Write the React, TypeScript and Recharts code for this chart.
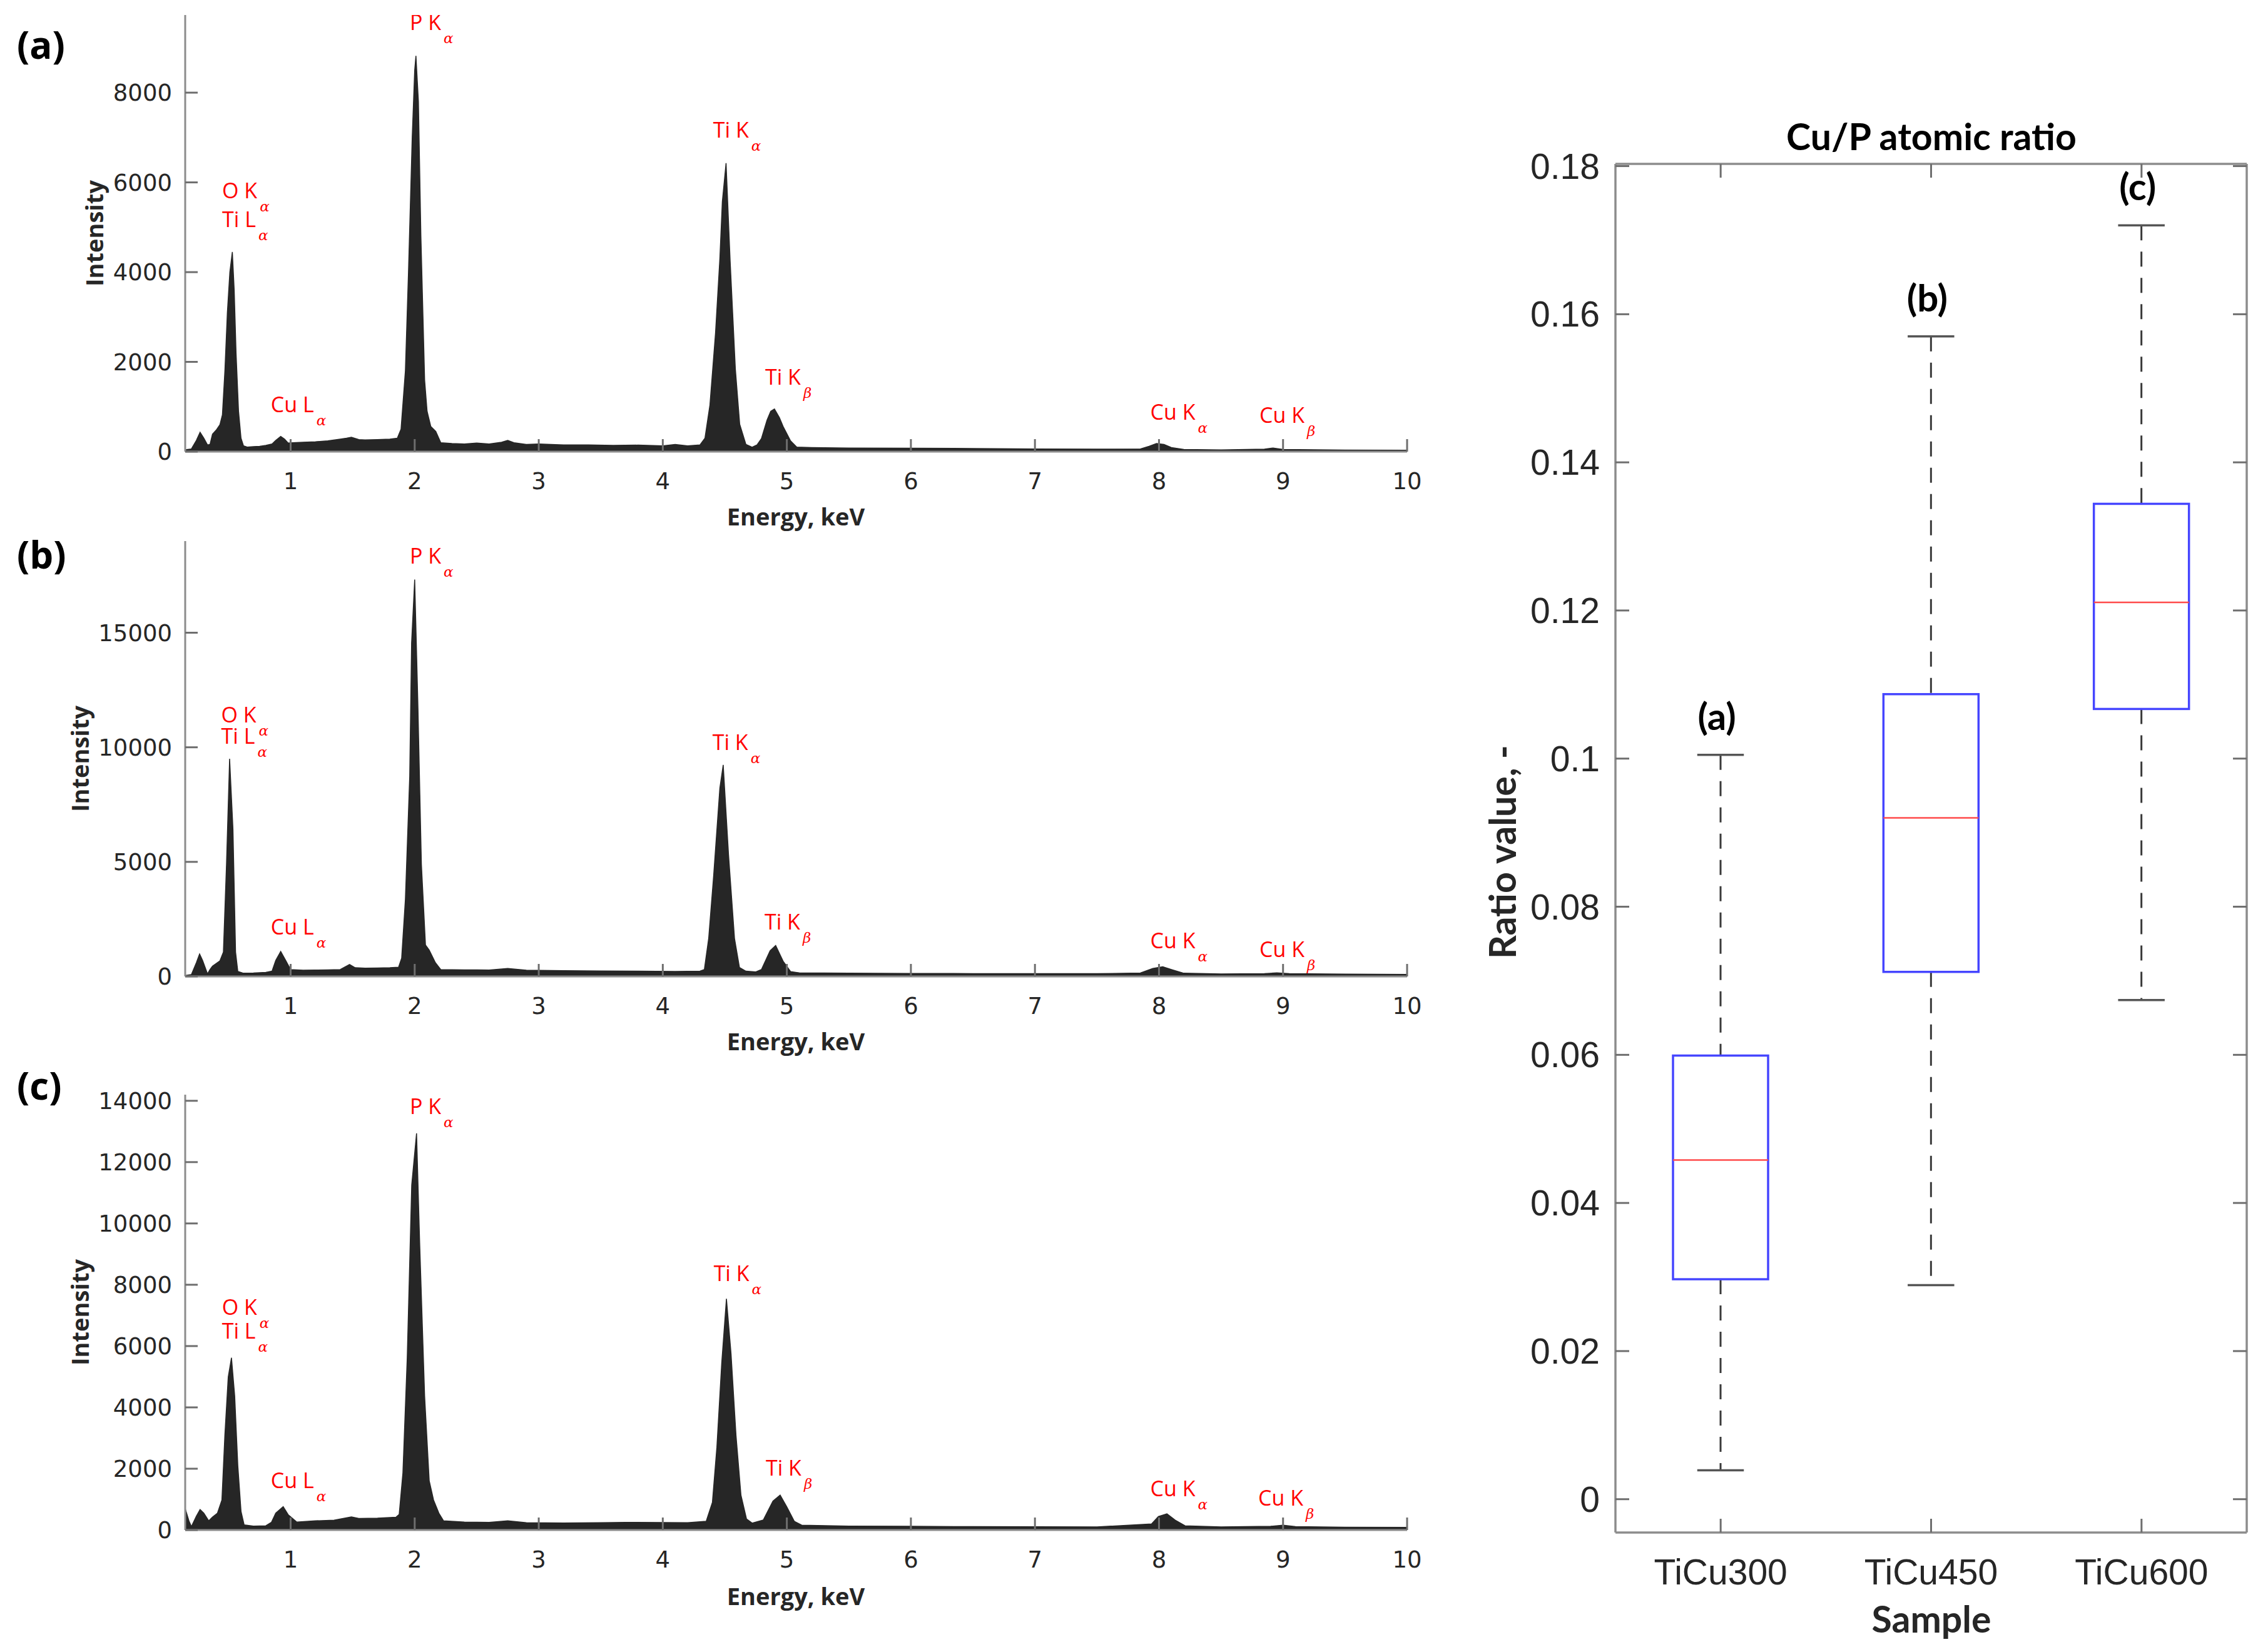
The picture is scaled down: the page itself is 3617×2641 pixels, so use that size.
import React from 'react';
import { ComposedChart, Area, Scatter, Bar, XAxis, YAxis } from 'recharts';

// ---------- EDS spectra (energy keV, intensity counts) ----------
const energyTicks = [1, 2, 3, 4, 5, 6, 7, 8, 9, 10];
const intensityTicksA = [0, 2000, 4000, 6000, 8000];
const intensityTicksB = [0, 5000, 10000, 15000];
const intensityTicksC = [0, 2000, 4000, 6000, 8000, 10000, 12000, 14000];

const spectrumA: [number, number][] = [
  [0.15, 40], [0.2, 60], [0.24, 250], [0.27, 430], [0.3, 300], [0.33, 150], [0.35, 160], [0.37, 390],
  [0.4, 480], [0.43, 600], [0.45, 820], [0.47, 1800], [0.49, 3100], [0.51, 4000], [0.53, 4450],
  [0.545, 3600], [0.56, 2200], [0.58, 900], [0.6, 300], [0.62, 130], [0.65, 100], [0.7, 110],
  [0.75, 120], [0.8, 140], [0.85, 170], [0.88, 250], [0.92, 340], [0.95, 280], [0.98, 190],
  [1.02, 200], [1.1, 210], [1.2, 220], [1.3, 240], [1.4, 280], [1.45, 300], [1.49, 320],
  [1.55, 270], [1.6, 260], [1.7, 270], [1.8, 280], [1.86, 300], [1.89, 500], [1.925, 1800],
  [1.95, 4000], [1.98, 7000], [2.0, 8500], [2.01, 8820], [2.03, 7800], [2.05, 4800], [2.08, 1600],
  [2.1, 900], [2.13, 560], [2.17, 450], [2.21, 200], [2.3, 180], [2.4, 170], [2.5, 190], [2.6, 170],
  [2.7, 210], [2.75, 250], [2.8, 200], [2.9, 160], [3.0, 170], [3.2, 150], [3.4, 150], [3.6, 140],
  [3.8, 145], [4.0, 130], [4.1, 160], [4.2, 130], [4.3, 150], [4.34, 300], [4.38, 1040],
  [4.425, 2640], [4.46, 4300], [4.48, 5570], [4.51, 6430], [4.543, 4240], [4.585, 1840],
  [4.62, 610], [4.67, 160], [4.72, 100], [4.76, 150], [4.795, 290], [4.84, 700], [4.87, 900],
  [4.9, 950], [4.94, 760], [4.97, 560], [5.03, 240], [5.08, 100], [5.2, 90], [5.5, 80], [6.0, 75],
  [6.5, 70], [7.0, 60], [7.5, 55], [7.85, 60], [7.92, 120], [7.98, 180], [8.04, 160], [8.1, 90],
  [8.2, 50], [8.5, 40], [8.85, 55], [8.92, 80], [9.0, 50], [9.5, 35], [10.0, 30],
];

const spectrumB: [number, number][] = [
  [0.15, 40], [0.2, 80], [0.24, 600], [0.266, 980], [0.29, 700], [0.33, 110], [0.35, 300],
  [0.37, 450], [0.43, 680], [0.458, 1065], [0.483, 4890], [0.508, 9500], [0.535, 6430],
  [0.556, 1065], [0.574, 220], [0.62, 140], [0.7, 150], [0.8, 180], [0.85, 230], [0.88, 700],
  [0.92, 1090], [0.96, 700], [1.0, 300], [1.1, 270], [1.2, 280], [1.3, 290], [1.4, 300],
  [1.475, 520], [1.52, 380], [1.6, 360], [1.7, 370], [1.8, 380], [1.87, 400], [1.895, 800],
  [1.925, 3360], [1.96, 8740], [1.975, 14550], [2.0, 17320], [2.026, 11790], [2.054, 4890],
  [2.087, 1370], [2.117, 1150], [2.167, 600], [2.21, 300], [2.4, 290], [2.6, 280], [2.75, 350],
  [2.9, 270], [3.2, 250], [3.5, 240], [3.8, 230], [4.1, 220], [4.3, 230], [4.335, 300],
  [4.37, 1665], [4.41, 4400], [4.46, 8220], [4.487, 9230], [4.53, 5300], [4.578, 1665],
  [4.618, 390], [4.67, 230], [4.75, 200], [4.795, 300], [4.865, 1120], [4.91, 1350], [4.97, 665],
  [5.03, 210], [5.1, 160], [5.5, 140], [6.0, 130], [6.5, 125], [7.0, 120], [7.5, 120], [7.85, 150],
  [7.95, 350], [8.03, 420], [8.1, 300], [8.2, 140], [8.5, 110], [8.85, 120], [8.95, 160],
  [9.05, 120], [9.5, 100], [10.0, 90],
];

const spectrumC: [number, number][] = [
  [0.15, 700], [0.18, 300], [0.2, 110], [0.24, 450], [0.27, 670], [0.3, 550], [0.34, 300],
  [0.37, 420], [0.41, 550], [0.446, 980], [0.47, 3110], [0.497, 4990], [0.523, 5620], [0.549, 4370],
  [0.574, 2110], [0.6, 610], [0.625, 170], [0.7, 130], [0.8, 140], [0.845, 250], [0.88, 550],
  [0.94, 760], [0.98, 500], [1.05, 260], [1.2, 300], [1.35, 320], [1.45, 400], [1.49, 430],
  [1.55, 380], [1.7, 390], [1.85, 420], [1.875, 510], [1.905, 1860], [1.94, 5620], [1.976, 11250],
  [2.015, 12940], [2.04, 9370], [2.08, 4370], [2.117, 1610], [2.152, 980], [2.195, 550],
  [2.233, 300], [2.4, 260], [2.6, 250], [2.75, 300], [2.9, 240], [3.2, 230], [3.5, 240], [3.7, 250],
  [4.0, 245], [4.2, 240], [4.35, 285], [4.4, 905], [4.436, 2700], [4.475, 5440], [4.513, 7545],
  [4.55, 5755], [4.59, 3095], [4.63, 1140], [4.675, 360], [4.72, 225], [4.81, 325], [4.888, 945],
  [4.946, 1140], [5.0, 755], [5.06, 285], [5.12, 160], [5.5, 130], [6.0, 120], [6.5, 110],
  [7.0, 105], [7.5, 100], [7.94, 200], [7.995, 440], [8.064, 530], [8.13, 325], [8.21, 140],
  [8.5, 100], [8.9, 120], [9.0, 160], [9.1, 110], [9.5, 90], [10.0, 85],
];

// peak annotations: [energy, intensity, element line, subscript]
const peaksA: [number, number, string, string][] = [
  [1.96, 9394, 'P K', 'α'], [0.448, 5645, 'O K', 'α'], [0.448, 5003, 'Ti L', 'α'],
  [0.84, 878, 'Cu L', 'α'], [4.406, 7000, 'Ti K', 'α'], [4.825, 1491, 'Ti K', 'β'],
  [7.93, 711, 'Cu K', 'α'], [8.81, 641, 'Cu K', 'β'],
];
const peaksB: [number, number, string, string][] = [
  [1.96, 18030, 'P K', 'α'], [0.44, 11084, 'O K', 'α'], [0.44, 10156, 'Ti L', 'α'],
  [0.84, 1830, 'Cu L', 'α'], [4.4, 9880, 'Ti K', 'α'], [4.82, 2050, 'Ti K', 'β'],
  [7.93, 1230, 'Cu K', 'α'], [8.81, 846, 'Cu K', 'β'],
];
const peaksC: [number, number, string, string][] = [
  [1.96, 13573, 'P K', 'α'], [0.446, 7021, 'O K', 'α'], [0.446, 6245, 'Ti L', 'α'],
  [0.84, 1367, 'Cu L', 'α'], [4.41, 8130, 'Ti K', 'α'], [4.83, 1780, 'Ti K', 'β'],
  [7.93, 1100, 'Cu K', 'α'], [8.8, 800, 'Cu K', 'β'],
];

// ---------- Box plot: Cu/P atomic ratio ----------
const samples = ['TiCu300', 'TiCu450', 'TiCu600'];
const whiskerLow = [0.0039, 0.0289, 0.0674];
const quartile1 = [0.0297, 0.0712, 0.1067];
const medians = [0.0458, 0.092, 0.1211];
const quartile3 = [0.0599, 0.1087, 0.1344];
const whiskerHigh = [0.1005, 0.157, 0.172];
const groupTags = ['(a)', '(b)', '(c)'];
const ratioTicks = [0, 0.02, 0.04, 0.06, 0.08, 0.1, 0.12, 0.14, 0.16, 0.18];
const ratioTickLabels = ['0', '0.02', '0.04', '0.06', '0.08', '0.1', '0.12', '0.14', '0.16', '0.18'];

const AXIS_GRAY = '#8c8c8c';
const TICK_GRAY = '#6e6e6e';
const TEXT_DARK = '#262626';

const PeakLabel = (p: any) => {
  if (p.cx == null || p.cy == null) return null;
  return (
    <text x={p.cx} y={p.cy} fill="#ff0000" fontFamily="'Open Sans'" fontSize={34}>
      {p.payload.name}
      <tspan dx={4} dy={21} fontFamily="'DejaVu Serif'" fontStyle="italic" fontSize={23}>
        {p.payload.sub}
      </tspan>
    </text>
  );
};

const EnergyTick = (p: any) => (
  <g>
    <line x1={p.x} x2={p.x} y1={p.y} y2={p.y - 20} stroke={TICK_GRAY} strokeWidth={3} />
    <text x={p.x} y={p.y + 60} textAnchor="middle" fontFamily="'DejaVu Sans'" fontSize={37} fill={TEXT_DARK}>
      {p.payload.value}
    </text>
  </g>
);

const CountTick = (p: any) => (
  <g>
    <line x1={p.x} x2={p.x + 20} y1={p.y} y2={p.y} stroke={TICK_GRAY} strokeWidth={3} />
    <text x={p.x - 21} y={p.y + 13} textAnchor="end" fontFamily="'DejaVu Sans'" fontSize={37} fill={TEXT_DARK}>
      {p.payload.value}
    </text>
  </g>
);

type PanelProps = {
  top: number;
  height: number;
  plotTop: number;
  plotBottom: number;
  series: [number, number][];
  yMax: number;
  yTicks: number[];
  peaks: [number, number, string, string][];
};

function SpectrumPanel({ top, height, plotTop, plotBottom, series, yMax, yTicks, peaks }: PanelProps) {
  const data = series.map(([e, v]) => ({ e, v }));
  const peakData = peaks.map(([e, v, name, sub]) => ({ e, v, name, sub }));
  return (
    <div style={{ position: 'absolute', left: 0, top, width: 2300, height }}>
      <ComposedChart
        width={2300}
        height={height}
        data={data}
        margin={{ top: plotTop - top, right: 51, bottom: top + height - plotBottom - 1, left: 295 }}
      >
        <XAxis
          dataKey="e"
          type="number"
          domain={[0.15, 10]}
          ticks={energyTicks}
          interval={0}
          allowDataOverflow
          height={1}
          tickSize={0}
          tickMargin={0}
          tickLine={false}
          axisLine={{ stroke: AXIS_GRAY, strokeWidth: 3 }}
          tick={EnergyTick}
        />
        <YAxis
          type="number"
          domain={[0, yMax]}
          ticks={yTicks}
          interval={0}
          allowDataOverflow
          width={1}
          tickSize={0}
          tickMargin={0}
          tickLine={false}
          axisLine={{ stroke: AXIS_GRAY, strokeWidth: 3 }}
          tick={CountTick}
        />
        <Area
          dataKey="v"
          type="linear"
          stroke="#262626"
          strokeWidth={1.5}
          fill="#262626"
          fillOpacity={1}
          dot={false}
          activeDot={false}
          isAnimationActive={false}
        />
        <Scatter data={peakData} dataKey="v" shape={PeakLabel} isAnimationActive={false} />
      </ComposedChart>
    </div>
  );
}

const BoxShape = (p: any) => {
  const { x, y, width, height, payload } = p;
  if (x == null || y == null) return null;
  const yTop = Math.min(y, y + height);
  const yBot = Math.max(y, y + height);
  const lo = payload.lo;
  const hi = payload.hi;
  const py = (v: number) => yBot - ((v - lo) / (hi - lo)) * (yBot - yTop);
  const cx = x + width / 2;
  const capHalf = width * 0.245;
  return (
    <g>
      <line x1={cx} x2={cx} y1={py(hi)} y2={py(payload.q3)} stroke="#3a3a3a" strokeWidth={3} strokeDasharray="24 18" />
      <line x1={cx} x2={cx} y1={py(payload.q1)} y2={py(lo)} stroke="#3a3a3a" strokeWidth={3} strokeDasharray="24 18" />
      <line x1={cx - capHalf} x2={cx + capHalf} y1={py(hi)} y2={py(hi)} stroke="#555555" strokeWidth={3.5} />
      <line x1={cx - capHalf} x2={cx + capHalf} y1={py(lo)} y2={py(lo)} stroke="#555555" strokeWidth={3.5} />
      <rect
        x={x}
        y={py(payload.q3)}
        width={width}
        height={py(payload.q1) - py(payload.q3)}
        fill="none"
        stroke="#4545ff"
        strokeWidth={3.5}
      />
      <line x1={x} x2={x + width} y1={py(payload.med)} y2={py(payload.med)} stroke="#ff4a4a" strokeWidth={2.5} />
      <text x={cx - 6} y={py(hi) - 40} textAnchor="middle" fontFamily="Lato" fontWeight="bold" fontSize={60} fill="#000">
        {payload.tag}
      </text>
    </g>
  );
};

const SampleTick = (p: any) => (
  <g>
    <line x1={p.x} x2={p.x} y1={p.y} y2={p.y - 22} stroke={TICK_GRAY} strokeWidth={3} />
    <text x={p.x} y={p.y + 83} textAnchor="middle" fontFamily="'Liberation Sans'" fontSize={57} fill={TEXT_DARK}>
      {p.payload.value}
    </text>
  </g>
);
const TopTick = (p: any) => (
  <line x1={p.x} x2={p.x} y1={p.y} y2={p.y + 22} stroke={TICK_GRAY} strokeWidth={3} />
);
const RatioTick = (p: any) => {
  const idx = ratioTicks.findIndex((t) => Math.abs(t - p.payload.value) < 1e-9);
  return (
    <g>
      <line x1={p.x} x2={p.x + 22} y1={p.y} y2={p.y} stroke={TICK_GRAY} strokeWidth={3} />
      <text x={p.x - 25} y={p.y + 20} textAnchor="end" fontFamily="'Liberation Sans'" fontSize={57} fill={TEXT_DARK}>
        {idx >= 0 ? ratioTickLabels[idx] : p.payload.value}
      </text>
    </g>
  );
};
const RightTick = (p: any) => (
  <line x1={p.x} x2={p.x - 22} y1={p.y} y2={p.y} stroke={TICK_GRAY} strokeWidth={3} />
);

function BoxPanel() {
  const data = samples.map((s, i) => ({
    sample: s,
    range: [whiskerLow[i], whiskerHigh[i]],
    lo: whiskerLow[i],
    q1: quartile1[i],
    med: medians[i],
    q3: quartile3[i],
    hi: whiskerHigh[i],
    tag: groupTags[i],
  }));
  const axisLine = { stroke: AXIS_GRAY, strokeWidth: 3.5 };
  return (
    <div style={{ position: 'absolute', left: 2300, top: 0, width: 1317, height: 2641 }}>
      <ComposedChart width={1317} height={2641} data={data} margin={{ top: 261, right: 25, bottom: 190, left: 281 }}>
        <XAxis
          dataKey="sample"
          type="category"
          interval={0}
          height={1}
          tickSize={0}
          tickMargin={0}
          tickLine={false}
          axisLine={axisLine}
          tick={SampleTick}
        />
        <XAxis
          xAxisId="top"
          dataKey="sample"
          type="category"
          orientation="top"
          interval={0}
          height={1}
          tickSize={0}
          tickMargin={0}
          tickLine={false}
          axisLine={axisLine}
          tick={TopTick}
        />
        <YAxis
          type="number"
          domain={[-0.0045, 0.1803]}
          ticks={ratioTicks}
          interval={0}
          allowDataOverflow
          width={1}
          tickSize={0}
          tickMargin={0}
          tickLine={false}
          axisLine={axisLine}
          tick={RatioTick}
        />
        <YAxis
          yAxisId="right"
          orientation="right"
          type="number"
          domain={[-0.0045, 0.1803]}
          ticks={ratioTicks}
          interval={0}
          allowDataOverflow
          width={1}
          tickSize={0}
          tickMargin={0}
          tickLine={false}
          axisLine={axisLine}
          tick={RightTick}
        />
        <Bar dataKey="range" barSize={152} shape={BoxShape} isAnimationActive={false} />
      </ComposedChart>
    </div>
  );
}

const boldOpen = { fontFamily: "'Open Sans'", fontWeight: 'bold' as const };
const boldLato = { fontFamily: 'Lato', fontWeight: 'bold' as const };

function Overlay() {
  const intensityLabels = [
    { x: 150, y: 373 },
    { x: 127, y: 1213 },
    { x: 127, y: 2098 },
  ];
  const energyLabelY = [825, 1664, 2551];
  const panelLetters = [
    { t: '(a)', y: 94 },
    { t: '(b)', y: 909 },
    { t: '(c)', y: 1758 },
  ];
  return (
    <svg width={3617} height={2641} style={{ position: 'absolute', left: 0, top: 0, pointerEvents: 'none' }}>
      {panelLetters.map((p) => (
        <text key={p.t} x={27} y={p.y} fontSize={60} fill="#000" {...boldOpen}>
          {p.t}
        </text>
      ))}
      {intensityLabels.map((p, i) => (
        <text
          key={i}
          x={p.x}
          y={p.y}
          transform={`rotate(-90 ${p.x} ${p.y})`}
          textAnchor="middle"
          dominantBaseline="central"
          fontSize={38}
          fill={TEXT_DARK}
          {...boldOpen}
        >
          Intensity
        </text>
      ))}
      {energyLabelY.map((y, i) => (
        <text key={i} x={1272} y={y} textAnchor="middle" dominantBaseline="central" fontSize={38} fill={TEXT_DARK} {...boldOpen}>
          Energy, keV
        </text>
      ))}
      <text x={3087} y={240} textAnchor="middle" fontSize={59} fill="#000" {...boldLato}>
        Cu/P atomic ratio
      </text>
      <text
        x={2400}
        y={1362}
        transform="rotate(-90 2400 1362)"
        textAnchor="middle"
        dominantBaseline="central"
        fontSize={59}
        fill={TEXT_DARK}
        {...boldLato}
      >
        Ratio value, -
      </text>
      <text x={3087} y={2610} textAnchor="middle" fontSize={59} fill={TEXT_DARK} {...boldLato}>
        Sample
      </text>
    </svg>
  );
}

export default function App() {
  return (
    <div style={{ position: 'absolute', left: 0, top: 0, width: 3617, height: 2641, background: '#fff', overflow: 'hidden' }}>
      <SpectrumPanel top={0} height={870} plotTop={24} plotBottom={722} series={spectrumA} yMax={9730} yTicks={intensityTicksA} peaks={peaksA} />
      <SpectrumPanel top={840} height={870} plotTop={865} plotBottom={1561} series={spectrumB} yMax={19000} yTicks={intensityTicksB} peaks={peaksB} />
      <SpectrumPanel top={1720} height={900} plotTop={1750} plotBottom={2446} series={spectrumC} yMax={14200} yTicks={intensityTicksC} peaks={peaksC} />
      <BoxPanel />
      <Overlay />
    </div>
  );
}
